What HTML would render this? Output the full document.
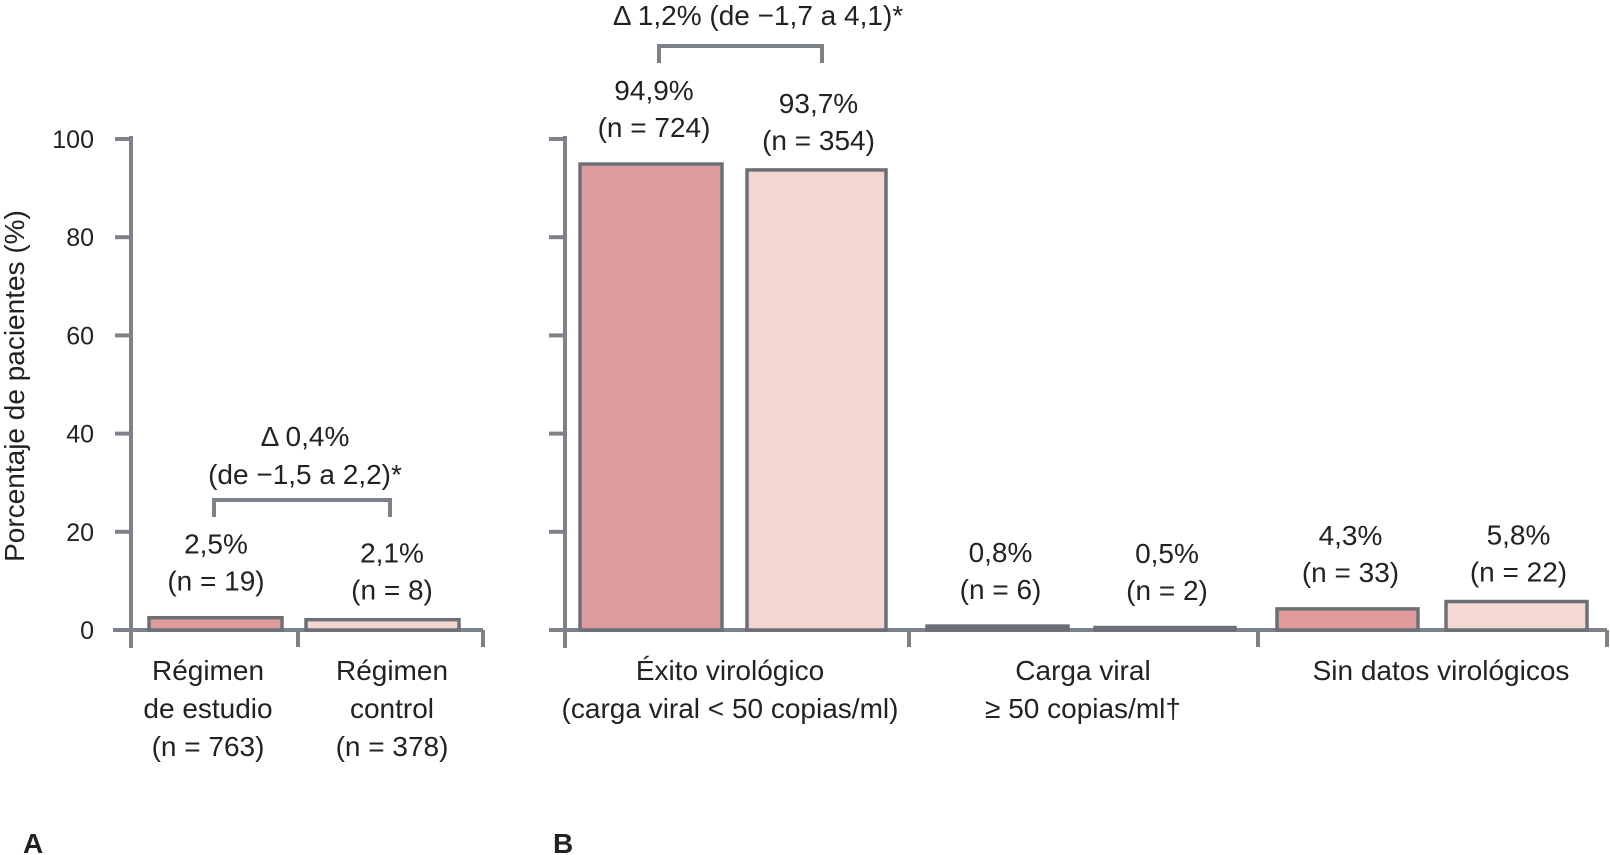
<!DOCTYPE html>
<html><head><meta charset="utf-8"><style>
html,body{margin:0;padding:0;background:#fff;}
svg{display:block;font-family:"Liberation Sans",sans-serif;}
</style></head><body>
<svg id="chart" width="1610" height="855" viewBox="0 0 1610 855"></svg>
<script>
const yTicks = [0, 20, 40, 60, 80, 100];
const panelAValues = [2.5, 2.1];
const panelALabels = ["2,5%|(n = 19)", "2,1%|(n = 8)"];
const panelACats = ["Régimen|de estudio|(n = 763)", "Régimen|control|(n = 378)"];
const panelBCats = ["Éxito virológico|(carga viral < 50 copias/ml)", "Carga viral|≥ 50 copias/ml†", "Sin datos virológicos"];
const panelBStudy = [94.9, 0.8, 4.3];
const panelBControl = [93.7, 0.5, 5.8];
const panelBStudyLabels = ["94,9%|(n = 724)", "0,8%|(n = 6)", "4,3%|(n = 33)"];
const panelBControlLabels = ["93,7%|(n = 354)", "0,5%|(n = 2)", "5,8%|(n = 22)"];

const svg = document.getElementById('chart');
const NS = 'http://www.w3.org/2000/svg';
const Y0 = 630, Y100 = 139;
const FS = 28;
function y(v){ return Y0 - (v/100)*(Y0-Y100); }
function mk(tag, attrs, parent){
  const e = document.createElementNS(NS, tag);
  for (const k in attrs) e.setAttribute(k, attrs[k]);
  (parent||svg).appendChild(e);
  return e;
}
function text(str, x, yy, size, anchor, name){
  const t = mk('text', {x:x, y:yy, 'font-size':size, 'text-anchor':anchor||'middle', fill:'#222'});
  t.textContent = str;
  
  
  return t;
}
function multi(str, cx, y1, dy, size, name){
  str.split('|').forEach((s,i)=>text(s, cx, y1+i*dy, size, 'middle', name));
}
const AX = '#7d8289';
function yAxis(x, withLabels, name){
  const g = mk('g', {});
  
  
  mk('line', {x1:x, y1:Y100-3, x2:x, y2:Y0+18, stroke:AX, 'stroke-width':4}, g);
  yTicks.forEach(v=>{
    mk('line', {x1:x-16, y1:y(v), x2:x, y2:y(v), stroke:AX, 'stroke-width':4}, g);
    if (withLabels) text(String(v), x-37, y(v)+9, 25, 'end', 'y-tick-label');
  });
}
function bar(x1, x2, v, fill, name){
  const r = mk('rect', {x:x1, y:y(v), width:x2-x1, height:Y0-y(v), fill:fill, stroke:'#6b7078', 'stroke-width':3.5});
  
  
}
function bracket(x1, x2, yy, name){
  const p = mk('path', {d:`M${x1} ${yy+17} V${yy} H${x2} V${yy+17}`, fill:'none', stroke:AX, 'stroke-width':4});
  
  
}
const STUDY_OFF = -64, CTRL_OFF = -57, MAXB = 563, LH = 37;

// Panel A
yAxis(131, true, 'y-axis-a');
mk('path', {d:`M113 ${Y0} H483 M298 ${Y0} V647 M483 ${Y0} V647`, stroke:AX, 'stroke-width':4, fill:'none'});
const aBars = [[149,282,'#e29b9b'],[306,459,'#f3d6d2']];
const aCatX = [208, 392];
const aValX = [216, 392];
panelAValues.forEach((v,i)=>{
  bar(aBars[i][0], aBars[i][1], v, aBars[i][2], 'bar-a-'+(i+1));
  const off = i===0 ? STUDY_OFF : CTRL_OFF;
  multi(panelALabels[i], aValX[i], Math.min(y(v)+off, MAXB), LH, FS, 'value-label');
  multi(panelACats[i], aCatX[i], 680, 38, FS, 'x-category-label');
});
bracket(214, 390, 500, 'bracket-a');
text('Δ 0,4%', 305, 446, FS, 'middle', 'delta-a');
text('(de −1,5 a 2,2)*', 305, 484, FS, 'middle', 'delta-a-ci');
const yt = text('Porcentaje de pacientes (%)', 0, 0, FS, 'middle', 'y-axis-title');
yt.setAttribute('transform', 'translate(24,386) rotate(-90)');

// Panel B
yAxis(565, false, 'y-axis-b');
mk('path', {d:`M565 ${Y0} H1607 M909 ${Y0} V647 M1258 ${Y0} V647 M1607 ${Y0} V647`, stroke:AX, 'stroke-width':4, fill:'none'});
const bStudyX = [[580,722],[927,1068],[1277,1418]];
const bCtrlX = [[747,886],[1095,1235],[1446,1587]];
const sFill = ['#de9b9b','#7a5a5e','#e29b9b'];
const cFill = ['#f3d6d2','#7d7a80','#f4d8d4'];
const catX = [730, 1083, 1441];
panelBCats.forEach((c,i)=>{
  bar(bStudyX[i][0], bStudyX[i][1], panelBStudy[i], sFill[i], 'bar-b-study-'+(i+1));
  bar(bCtrlX[i][0], bCtrlX[i][1], panelBControl[i], cFill[i], 'bar-b-control-'+(i+1));
  const sy = Math.min(y(panelBStudy[i]) + STUDY_OFF, MAXB);
  const cy = Math.min(y(panelBControl[i]) + CTRL_OFF, MAXB);
  multi(panelBStudyLabels[i], (bStudyX[i][0]+bStudyX[i][1])/2+3, sy, LH, FS, 'value-label');
  multi(panelBControlLabels[i], (bCtrlX[i][0]+bCtrlX[i][1])/2+2, cy, LH, FS, 'value-label');
  multi(c, catX[i], 680, 38, FS, 'x-category-label');
});
bracket(659, 822, 46, 'bracket-b');
text('Δ 1,2% (de −1,7 a 4,1)*', 758, 25, FS, 'middle', 'delta-b');

text('A', 23, 853, 28, 'start', 'panel-a-letter').setAttribute('font-weight','bold');
text('B', 553, 853, 28, 'start', 'panel-b-letter').setAttribute('font-weight','bold');
</script>
</body></html>
